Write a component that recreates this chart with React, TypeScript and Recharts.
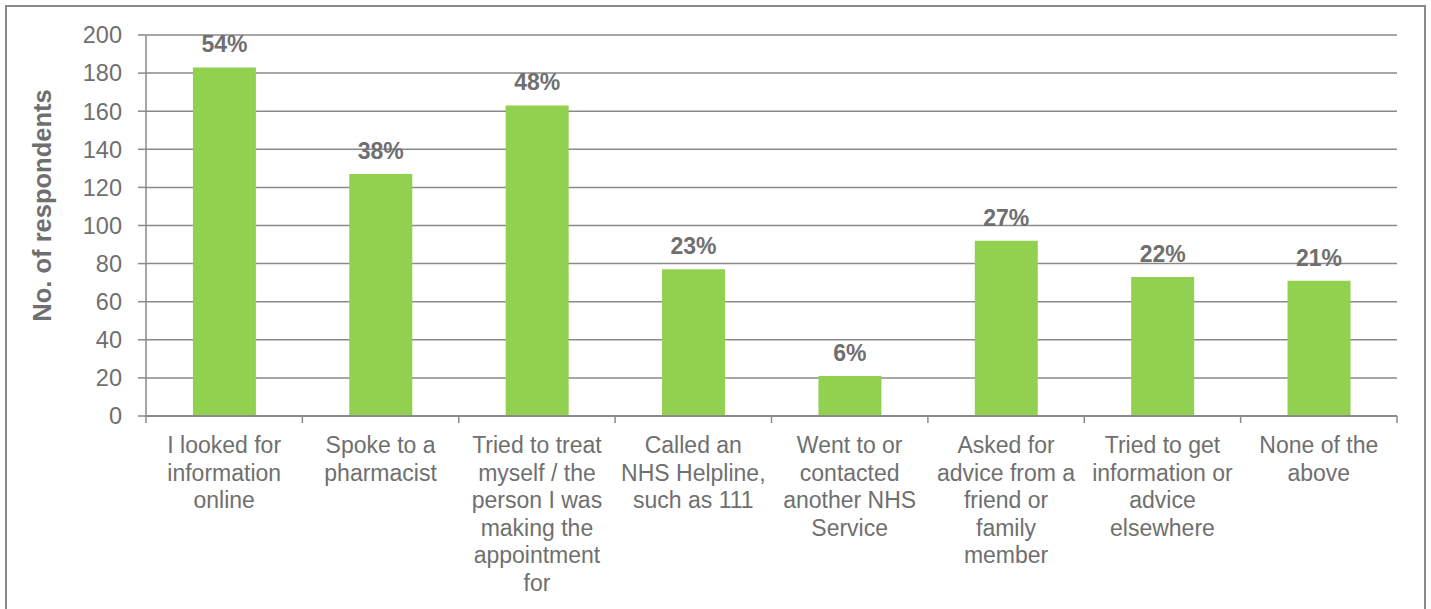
import React from 'react';
import {
  BarChart,
  Bar,
  XAxis,
  YAxis,
  CartesianGrid,
  LabelList,
  Label,
} from 'recharts';

const CATEGORIES = [
  'I looked for\ninformation\nonline',
  'Spoke to a\npharmacist',
  'Tried to treat\nmyself / the\nperson I was\nmaking the\nappointment\nfor',
  'Called an\nNHS Helpline,\nsuch as 111',
  'Went to or\ncontacted\nanother NHS\nService',
  'Asked for\nadvice from a\nfriend or\nfamily\nmember',
  'Tried to get\ninformation or\nadvice\nelsewhere',
  'None of the\nabove',
];
const RESPONDENTS = [183, 127, 163, 77, 21, 92, 73, 71];
const PERCENT_LABELS = ['54%', '38%', '48%', '23%', '6%', '27%', '22%', '21%'];
const Y_TICKS = [0, 20, 40, 60, 80, 100, 120, 140, 160, 180, 200];

const GREEN = '#92D050';
const GREY_TEXT = '#6f6f6f';
const GREY_LINE = '#8a8a8a';
const FONT = '"Liberation Sans", Arial, sans-serif';

const data = CATEGORIES.map((name, i) => ({
  name,
  value: RESPONDENTS[i],
  pct: PERCENT_LABELS[i],
}));

// multi-line category label plus Excel style tick marks between categories
const CategoryTick = (props: any) => {
  const { x, y, payload, index } = props;
  const half = payload && payload.offset ? payload.offset : 78.2;
  const lines = String(payload.value).split('\n');
  const last = index === CATEGORIES.length - 1;
  return (
    <g>
      <line x1={x - half} x2={x - half} y1={y} y2={y + 7} stroke={GREY_LINE} strokeWidth={1.5} />
      {last && (
        <line x1={x + half} x2={x + half} y1={y} y2={y + 7} stroke={GREY_LINE} strokeWidth={1.5} />
      )}
      <text x={x} y={y} textAnchor="middle" fill={GREY_TEXT} fontSize={23} fontFamily={FONT}>
        {lines.map((line, i) => (
          <tspan key={i} x={x} dy={i === 0 ? 37 : 27.5}>
            {line}
          </tspan>
        ))}
      </text>
    </g>
  );
};

const YTitle = (props: any) => {
  const vb = props.viewBox || { y: 35, height: 381 };
  const cx = 42;
  const cy = vb.y + vb.height / 2 - 20;
  return (
    <text
      x={cx}
      y={cy}
      transform={`rotate(-90, ${cx}, ${cy})`}
      textAnchor="middle"
      dominantBaseline="central"
      fill={GREY_TEXT}
      fontSize={25.5}
      fontWeight="bold"
      fontFamily={FONT}
    >
      No. of respondents
    </text>
  );
};

export default function App() {
  return (
    <div style={{ position: 'absolute', left: 0, top: 0, width: 1431, height: 609, background: '#fff', overflow: 'hidden' }}>
      <div
        style={{
          position: 'absolute',
          left: 5,
          top: 5,
          width: 1417,
          height: 620,
          borderTop: `2px solid ${GREY_LINE}`,
          borderLeft: `2px solid ${GREY_LINE}`,
          borderRight: `2px solid ${GREY_LINE}`,
        }}
      />
      <div style={{ position: 'absolute', left: 0, top: 0 }}>
        <BarChart
          width={1431}
          height={609}
          data={data}
          margin={{ top: 35, right: 34, left: 66, bottom: 23 }}
          barCategoryGap="30%"
        >
          <CartesianGrid horizontal vertical={false} stroke={GREY_LINE} strokeWidth={1.5} />
          <XAxis
            dataKey="name"
            interval={0}
            height={170}
            tickSize={0}
            tickMargin={0}
            tickLine={false}
            tick={<CategoryTick />}
            axisLine={{ stroke: GREY_LINE, strokeWidth: 2 }}
          />
          <YAxis
            domain={[0, 200]}
            ticks={Y_TICKS}
            width={80}
            tickSize={8}
            tickMargin={16}
            interval={0}
            tick={{ fill: GREY_TEXT, fontSize: 23.5, fontFamily: FONT }}
            tickLine={{ stroke: GREY_LINE, strokeWidth: 1.5 }}
            axisLine={{ stroke: GREY_LINE, strokeWidth: 1.5 }}
          >
            <Label content={<YTitle />} />
          </YAxis>
          <Bar dataKey="value" fill={GREEN} isAnimationActive={false}>
            <LabelList
              dataKey="pct"
              position="top"
              offset={15}
              fill={GREY_TEXT}
              fontSize={23}
              fontWeight="bold"
              fontFamily={FONT}
            />
          </Bar>
        </BarChart>
      </div>
    </div>
  );
}
